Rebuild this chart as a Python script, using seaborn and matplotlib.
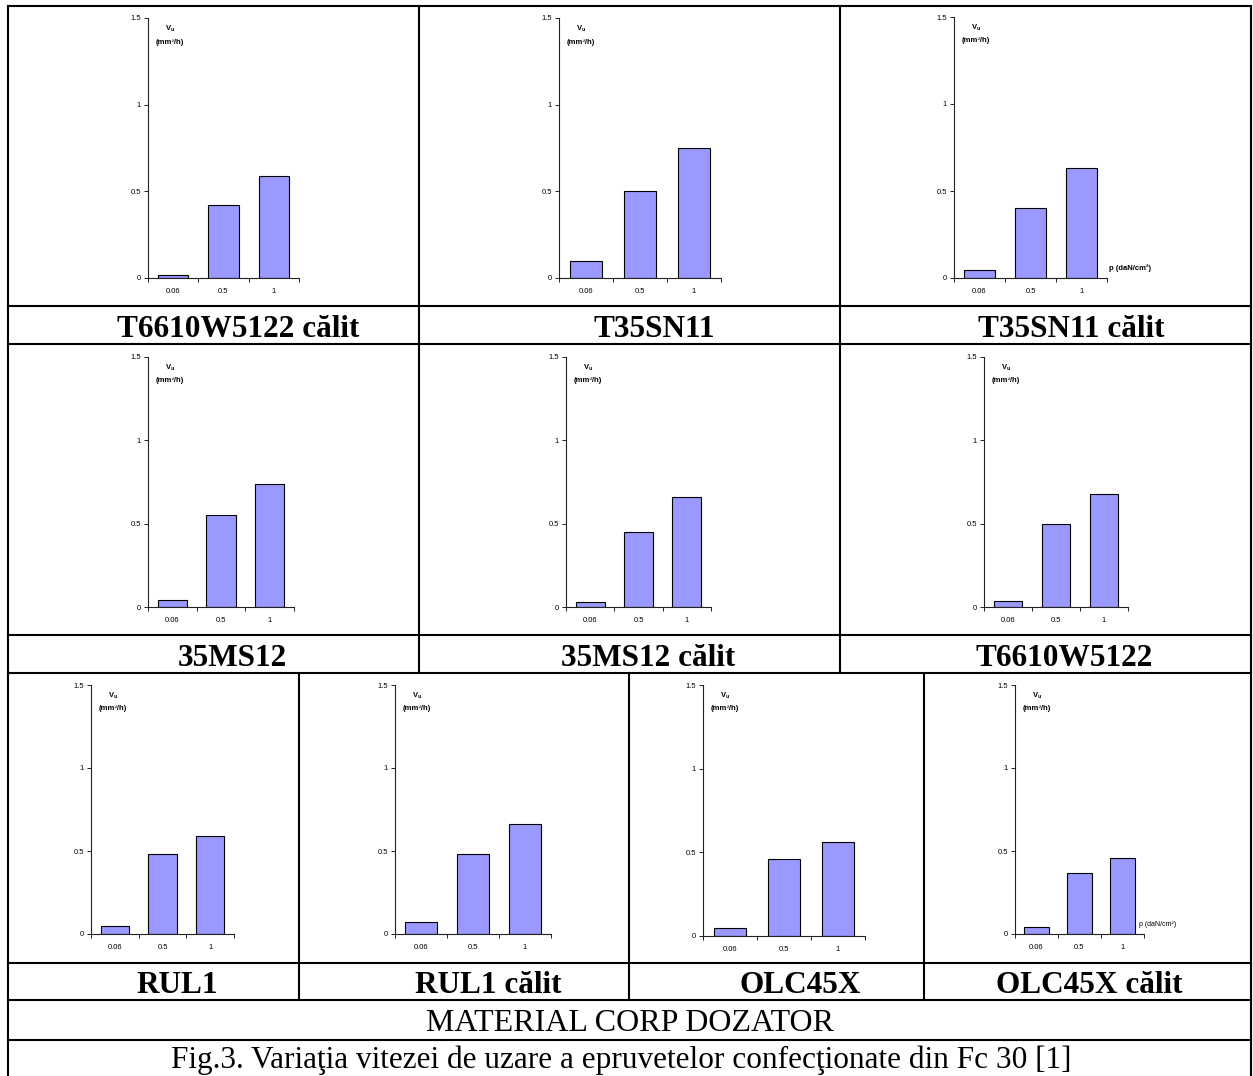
import matplotlib
matplotlib.use("Agg")
import matplotlib.pyplot as plt
import seaborn as sns

# Pressure levels (daN/cm²) shown on every x axis
pressures = ["0.06", "0.5", "1"]

# Wear rate V_u (mm³/h) for each body material at the three pressures
v_t6610w5122_calit = [0.02, 0.42, 0.59]
v_t35sn11 = [0.10, 0.50, 0.75]
v_t35sn11_calit = [0.045, 0.40, 0.63]
v_35ms12 = [0.045, 0.55, 0.74]
v_35ms12_calit = [0.03, 0.45, 0.66]
v_t6610w5122 = [0.035, 0.50, 0.68]
v_rul1 = [0.05, 0.48, 0.59]
v_rul1_calit = [0.07, 0.48, 0.66]
v_olc45x = [0.05, 0.46, 0.56]
v_olc45x_calit = [0.045, 0.365, 0.455]

materials = ["T6610W5122 călit", "T35SN11", "T35SN11 călit",
             "35MS12", "35MS12 călit", "T6610W5122",
             "RUL1", "RUL1 călit", "OLC45X", "OLC45X călit"]
values = [v_t6610w5122_calit, v_t35sn11, v_t35sn11_calit,
          v_35ms12, v_35ms12_calit, v_t6610w5122,
          v_rul1, v_rul1_calit, v_olc45x, v_olc45x_calit]

caption_row = "MATERIAL CORP DOZATOR"
caption_fig = "Fig.3. Variaţia vitezei de uzare a epruvetelor confecţionate din Fc 30 [1]"

# ---- layout (pixel coordinates on a 1253 x 1076 canvas) ----
W, H = 1253, 1076
# (y-axis x, x-axis end, baseline y, top y)
panel_boxes = [
    (148, 299, 278, 18), (559, 721, 278, 18), (954, 1107, 278, 17),
    (148, 294, 607, 357), (566, 711, 607, 357), (984, 1128, 607, 357),
    (91, 234, 934, 685), (395, 551, 934, 685), (703, 865, 936, 685), (1015, 1144, 934, 685),
]
# text centre x and baseline y of the material name under each panel
name_pos = [(238, 337), (654, 337), (1071, 337),
            (232, 666), (648, 666), (1064, 666),
            (177, 993), (488, 993), (800, 993), (1089, 993)]

sns.set_theme(style="white")
plt.rcParams["font.family"] = ["Liberation Sans", "DejaVu Sans"]
plt.rcParams["mathtext.fontset"] = "custom"
plt.rcParams["mathtext.rm"] = "Liberation Sans"
plt.rcParams["mathtext.bf"] = "Liberation Sans:bold"
for key in ("text.color", "axes.labelcolor", "xtick.color", "ytick.color"):
    plt.rcParams[key] = "black"

fig = plt.figure(figsize=(W / 100, H / 100), dpi=100)
fig.patch.set_facecolor("white")

bar_color = "#9999FF"
axis_color = "#222222"

for i, (vals, box) in enumerate(zip(values, panel_boxes)):
    xa, xe, yb, yt = box
    ax = fig.add_axes([xa / W, 1 - yb / H, (xe - xa) / W, (yb - yt) / H])
    ax.set_facecolor("none")
    sns.barplot(x=pressures, y=vals, order=pressures, color=bar_color,
                saturation=1, width=0.6, edgecolor="black", linewidth=0.8,
                errorbar=None, ax=ax)
    ax.set_xlim(-0.5, 2.5)
    ax.set_ylim(0, 1.5)
    ax.set_xlabel("")
    ax.set_ylabel("")
    for side in ("top", "right"):
        ax.spines[side].set_visible(False)
    for side in ("left", "bottom"):
        ax.spines[side].set_color(axis_color)
        ax.spines[side].set_linewidth(0.8)
    ax.set_yticks([0, 0.5, 1, 1.5])
    ax.set_yticklabels(["0", "0.5", "1", "1.5"])
    ax.set_xticks([-0.5, 0.5, 1.5, 2.5], minor=True)
    ax.tick_params(axis="y", which="major", length=3, width=0.7, pad=2,
                   labelsize=5.5, color=axis_color, labelcolor="black",
                   left=True, direction="out")
    ax.tick_params(axis="x", which="major", length=0, pad=7, labelsize=5.5,
                   labelcolor="black")
    ax.tick_params(axis="x", which="minor", length=3, width=0.7,
                   color=axis_color, bottom=True, direction="out")
    ax.grid(False)

    # y-axis caption inside the plot area
    ax.text(22 / (xe - xa), 1 - 11 / (yb - yt), r"$\mathbf{V_u}$",
            transform=ax.transAxes, ha="center", va="center", fontsize=5.5,
            color="black")
    ax.text(22 / (xe - xa), 1 - 24 / (yb - yt), "(mm³/h)",
            transform=ax.transAxes, ha="center", va="center",
            fontsize=5.5, fontweight="bold", color="black")

# pressure caption on the right end of two panels
fig.text(1130 / W, 1 - 268 / H, "p (daN/cm²)", ha="center", va="center",
         fontsize=5.5, fontweight="bold", color="black")
fig.text(1158 / W, 1 - 924 / H, "p (daN/cm²)", ha="center", va="center",
         fontsize=5, color="black")

# ---- table frame ----
frame = fig.add_axes([0, 0, 1, 1], zorder=-1)
frame.set_xlim(0, W)
frame.set_ylim(H, 0)
frame.axis("off")
lw = 1.5
for y in (6, 306, 344, 635, 673, 963, 1000, 1040):
    frame.plot([8, 1251], [y, y], color="black", lw=lw, solid_capstyle="projecting")
frame.plot([8, 8], [6, H], color="black", lw=lw)
frame.plot([1251, 1251], [6, H], color="black", lw=lw)
for x in (419, 840):
    frame.plot([x, x], [6, 673], color="black", lw=lw)
for x in (299, 629, 924):
    frame.plot([x, x], [673, 1000], color="black", lw=lw)

serif = ["Liberation Serif", "DejaVu Serif"]
for name, (cx, by) in zip(materials, name_pos):
    frame.text(cx, by, name, ha="center", va="baseline", fontsize=22.5,
               fontweight="bold", family=serif, color="black")
frame.text(630, 1031, caption_row, ha="center", va="baseline", fontsize=23,
           family=serif, color="black")
frame.text(621, 1068, caption_fig, ha="center", va="baseline", fontsize=22.5,
           family=serif, color="black")

fig.savefig("out.png", dpi=100, facecolor="white")
